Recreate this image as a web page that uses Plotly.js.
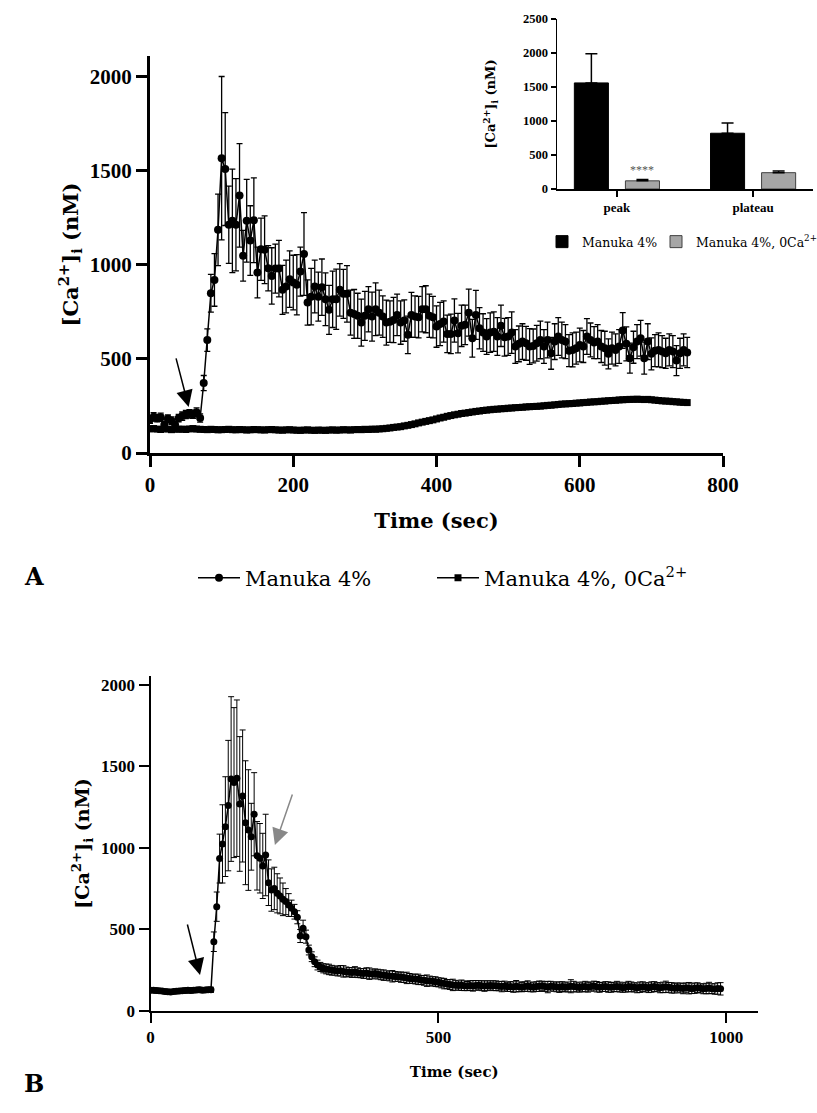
<!DOCTYPE html>
<html>
<head>
<meta charset="utf-8">
<script src="https://cdn.plot.ly/plotly-3.0.1.min.js"></script>
<style>
html,body{margin:0;padding:0;background:#fff;}
#chart{width:817px;height:1113px;}
</style>
</head>
<body>
<div id="chart"></div>
<script>
// ---------- Panel A: time course (sec) ----------
const timeA = [
0,5,10,15,20,25,30,35,40,45,50,55,60,65,70,75,80,85,90,95,
100,105,110,115,120,125,130,135,140,145,150,155,160,165,170,175,180,185,190,195,
200,205,210,215,220,225,230,235,240,245,250,255,260,265,270,275,280,285,290,295,
300,305,310,315,320,325,330,335,340,345,350,355,360,365,370,375,380,385,390,395,
400,405,410,415,420,425,430,435,440,445,450,455,460,465,470,475,480,485,490,495,
500,505,510,515,520,525,530,535,540,545,550,555,560,565,570,575,580,585,590,595,
600,605,610,615,620,625,630,635,640,645,650,655,660,665,670,675,680,685,690,695,
700,705,710,715,720,725,730,735,740,745,750];

// Manuka 4% (mean [Ca2+]i, nM) and SEM
const manukaA = [
178,192,185,190,150,182,172,150,185,196,205,208,206,216,186,372,600,849,920,1186,
1567,1509,1213,1234,1213,1369,1048,1234,1129,1237,959,1083,1080,982,941,980,980,867,885,924,
906,894,964,1058,800,831,885,831,881,817,761,817,817,867,846,846,746,739,729,693,
729,764,725,764,746,725,693,698,707,734,693,704,628,734,725,722,764,764,729,722,
672,686,699,633,633,704,637,676,681,746,610,734,663,640,619,640,645,619,676,615,
619,640,566,580,592,583,566,569,583,601,566,601,530,592,619,601,592,544,548,557,
574,566,619,601,587,592,566,557,527,557,548,566,651,580,504,562,592,610,504,592,
527,544,548,539,530,548,539,491,530,548,534];
const manukaAErr = [
20,22,20,22,18,20,20,18,20,22,22,22,22,24,22,40,60,100,140,190,
434,300,205,275,245,275,135,220,185,225,135,165,180,120,150,130,150,130,140,150,
145,160,130,220,120,150,140,130,150,140,130,150,160,140,130,150,120,130,120,125,
130,120,130,140,120,110,120,110,120,110,115,110,100,120,110,110,120,125,115,110,
110,115,110,100,105,115,105,110,105,125,100,130,110,100,95,105,105,100,110,100,
100,110,90,95,95,90,95,90,95,100,90,95,85,95,100,95,90,85,90,85,
90,85,95,90,85,90,85,90,80,85,85,90,95,90,80,85,90,95,85,95,
85,85,90,85,80,85,85,80,80,85,80];

// Manuka 4%, 0Ca2+ (mean [Ca2+]i, nM)
const manuka0CaA = [
128,130,127,125,130,127,124,128,126,127,125,128,130,127,126,125,124,126,125,123,
124,125,126,124,123,125,124,122,123,125,124,123,122,124,125,123,122,121,123,124,
122,121,120,122,123,121,120,122,121,120,122,123,121,122,124,123,122,124,125,124,
126,125,127,126,128,129,131,133,136,138,140,144,147,151,155,160,164,168,172,176,
181,186,190,195,199,203,206,210,212,215,218,221,223,226,228,230,232,233,235,236,
238,239,241,242,243,245,246,247,248,249,251,253,254,256,258,260,261,262,263,265,
266,268,269,271,272,273,275,276,278,279,280,282,283,284,285,285,286,285,284,285,
283,281,279,277,276,275,273,272,270,269,268];

// ---------- Inset: peak / plateau ----------
const insetCategories = ['peak', 'plateau'];
const insetManuka = [1560, 820];
const insetManukaErr = [430, 150];
const insetManuka0Ca = [120, 240];
const insetManuka0CaErr = [20, 25];

// ---------- Panel B: time course (sec) ----------
const timeB = [
0,5,10,15,20,25,30,35,40,45,50,55,60,65,70,75,80,85,90,95,
100,105,110,115,120,125,130,135,140,145,150,155,160,165,170,175,180,185,190,195,
200,205,210,215,220,225,230,235,240,245,250,255,260,265,270,275,280,285,290,295,
300,305,310,315,320,325,330,335,340,345,350,355,360,365,370,375,380,385,390,395,
400,405,410,415,420,425,430,435,440,445,450,455,460,465,470,475,480,485,490,495,
500,505,510,515,520,525,530,535,540,545,550,555,560,565,570,575,580,585,590,595,
600,605,610,615,620,625,630,635,640,645,650,655,660,665,670,675,680,685,690,695,
700,705,710,715,720,725,730,735,740,745,750,755,760,765,770,775,780,785,790,795,
800,805,810,815,820,825,830,835,840,845,850,855,860,865,870,875,880,885,890,895,
900,905,910,915,920,925,930,935,940,945,950,955,960,965,970,975,980,985,990];
const manukaB = [
128,127,125,124,122,120,118,117,119,121,123,124,125,127,126,128,129,130,128,129,
131,130,425,640,935,1025,1131,1260,1423,1401,1428,1270,1319,1155,1110,1069,1207,952,937,890,
957,787,742,752,722,706,685,671,650,630,609,575,460,507,456,374,333,302,282,270,
262,258,255,250,248,245,247,243,240,238,236,240,235,232,230,233,229,227,230,226,
222,220,218,215,213,212,210,208,205,203,200,198,196,194,190,188,186,184,182,180,
176,172,168,165,162,160,158,156,158,155,153,156,154,157,158,155,153,155,157,155,
155,152,150,153,148,150,147,152,149,146,150,153,148,145,150,152,155,150,147,152,
150,148,146,150,145,148,152,150,147,144,148,150,146,150,153,149,145,148,150,147,
145,148,150,147,143,146,150,148,145,142,146,149,145,143,147,150,146,142,145,148,
145,142,140,144,141,138,142,140,137,140,143,139,136,138,141,137,135,138,136];
const manukaBErr = [
15,14,15,14,13,14,15,14,13,14,15,14,15,14,15,14,15,16,15,14,
15,16,60,90,150,240,306,400,505,460,480,413,405,380,370,205,255,210,213,200,
250,140,130,130,120,110,100,80,70,50,45,40,40,50,40,30,30,30,30,28,
28,30,32,30,28,30,32,35,30,28,30,32,30,28,30,32,35,30,28,30,
30,32,28,30,35,30,28,32,30,35,30,28,30,32,28,30,35,30,28,30,
28,30,32,28,30,35,30,28,32,30,28,30,32,30,28,30,32,30,28,30,
30,28,32,30,28,30,32,35,30,28,30,32,30,28,30,32,28,30,35,30,
28,30,32,30,28,30,40,32,30,28,30,32,30,28,30,32,30,28,30,32,
30,28,32,30,28,30,32,30,28,30,32,30,28,30,32,30,28,30,32,35,
30,32,30,28,30,32,30,35,30,32,30,28,30,32,35,30,32,35,38];

const NUM = 'Liberation Serif';   // narrow bold digits
const TXT = 'DejaVu Serif';       // wide book face for words
const W = 817, H = 1113;
const px = v => v / W;            // pixel -> paper x
const py = v => 1 - v / H;        // pixel -> paper y

const caLabel = '[Ca<sup>2+</sup>]<sub>i</sub> (nM)';

const traces = [
  {
    x: timeA, y: manuka0CaA, type: 'scatter', mode: 'lines+markers',
    name: 'Manuka 4%, 0Ca<sup>2+</sup>', xaxis: 'x', yaxis: 'y', legend: 'legend3',
    line: {color: '#000', width: 1.5},
    marker: {symbol: 'square', size: 7, color: '#000'}
  },
  {
    x: timeA, y: manukaA, type: 'scatter', mode: 'lines+markers',
    name: 'Manuka 4%', xaxis: 'x', yaxis: 'y', legend: 'legend',
    line: {color: '#000', width: 1.5},
    marker: {symbol: 'circle', size: 8, color: '#000'},
    error_y: {type: 'data', array: manukaAErr, visible: true, color: '#000', thickness: 1.3, width: 3}
  },
  {
    x: insetCategories, y: insetManuka, type: 'bar', name: 'Manuka 4%',
    xaxis: 'x2', yaxis: 'y2', legend: 'legend2',
    marker: {color: '#000', line: {color: '#000', width: 1}},
    error_y: {type: 'data', symmetric: false, array: insetManukaErr, arrayminus: [0, 0],
              color: '#000', thickness: 1.5, width: 6}
  },
  {
    x: insetCategories, y: insetManuka0Ca, type: 'bar', name: 'Manuka 4%, 0Ca<sup>2+</sup>',
    xaxis: 'x2', yaxis: 'y2', legend: 'legend4',
    marker: {color: '#a6a6a6', line: {color: '#404040', width: 1}},
    error_y: {type: 'data', symmetric: false, array: insetManuka0CaErr, arrayminus: [0, 0],
              color: '#000', thickness: 1.5, width: 6}
  },
  {
    x: timeB, y: manukaB, type: 'scatter', mode: 'lines+markers',
    name: 'Manuka 4% (B)', xaxis: 'x3', yaxis: 'y3', showlegend: false,
    line: {color: '#000', width: 1.5},
    marker: {symbol: 'circle', size: 7, color: '#000'},
    error_y: {type: 'data', array: manukaBErr, visible: true, color: '#000', thickness: 1, width: 3}
  }
];

const axBase = {
  showgrid: false, zeroline: false, showline: true, linecolor: '#000',
  ticks: 'outside', tickcolor: '#000', mirror: false
};

const legendBase = {
  orientation: 'h', xanchor: 'left', yanchor: 'middle', bgcolor: 'rgba(0,0,0,0)'
};

const layout = {
  width: W, height: H,
  margin: {l: 0, r: 0, t: 0, b: 0, autoexpand: false},
  paper_bgcolor: '#fff', plot_bgcolor: 'rgba(0,0,0,0)',
  font: {family: TXT, color: '#000'},
  barmode: 'group', bargap: 0.25, bargroupgap: 0.333,
  xaxis: Object.assign({}, axBase, {
    domain: [px(150), px(723)], anchor: 'y', range: [0, 800], dtick: 200,
    linewidth: 3, tickwidth: 3, ticklen: 11,
    tickfont: {family: NUM, size: 21, weight: 'bold'},
    title: {text: 'Time (sec)', font: {family: TXT, size: 21, weight: 'bold'}, standoff: 18}
  }),
  yaxis: Object.assign({}, axBase, {
    domain: [py(453), py(56)], anchor: 'x', range: [0, 2110], dtick: 500,
    linewidth: 3, tickwidth: 3, ticklen: 11,
    tickfont: {family: NUM, size: 21, weight: 'bold'},
    title: {text: caLabel, font: {family: TXT, size: 21, weight: 'bold'}, standoff: 6}
  }),
  xaxis2: Object.assign({}, axBase, {
    domain: [px(557), px(813)], anchor: 'y2', type: 'category', range: [-0.44, 1.44],
    linewidth: 1.5, tickwidth: 1.5, ticklen: 6,
    tickfont: {family: NUM, size: 13, weight: 'bold'}
  }),
  yaxis2: Object.assign({}, axBase, {
    domain: [py(189), py(19)], anchor: 'x2', range: [0, 2500], dtick: 500,
    linewidth: 1.5, tickwidth: 1.5, ticklen: 5,
    tickfont: {family: NUM, size: 12.5, weight: 'bold'},
    title: {text: caLabel, font: {family: TXT, size: 13, weight: 'bold'}, standoff: 24}
  }),
  xaxis3: Object.assign({}, axBase, {
    domain: [px(150.5), px(758)], anchor: 'y3', range: [0, 1055], dtick: 500,
    linewidth: 2, tickwidth: 2, ticklen: 10,
    tickfont: {family: NUM, size: 17, weight: 'bold'},
    title: {text: 'Time (sec)', font: {family: TXT, size: 15, weight: 'bold'}, standoff: 20}
  }),
  yaxis3: Object.assign({}, axBase, {
    domain: [py(1011), py(676)], anchor: 'x3', range: [0, 2055], dtick: 500,
    linewidth: 2, tickwidth: 2, ticklen: 10,
    tickfont: {family: NUM, size: 17, weight: 'bold'},
    title: {text: caLabel, font: {family: TXT, size: 19, weight: 'bold'}, standoff: 6}
  }),
  legend: Object.assign({}, legendBase, {
    x: px(193), y: py(578), itemwidth: 42, font: {family: TXT, size: 21}
  }),
  legend3: Object.assign({}, legendBase, {
    x: px(432), y: py(578), itemwidth: 42, font: {family: TXT, size: 21}
  }),
  legend2: Object.assign({}, legendBase, {
    x: px(542), y: py(242), font: {family: TXT, size: 12.5}
  }),
  legend4: Object.assign({}, legendBase, {
    x: px(656), y: py(242), font: {family: TXT, size: 12.5}
  }),
  annotations: [
    {text: '<b>A</b>', xref: 'paper', yref: 'paper', x: px(22), y: py(576),
     showarrow: false, font: {family: TXT, size: 24}},
    {text: '<b>B</b>', xref: 'paper', yref: 'paper', x: px(22), y: py(1100),
     showarrow: false, font: {family: TXT, size: 24}},
    {text: '****', xref: 'x2', yref: 'y2', x: 0.1875, y: 150, yanchor: 'bottom',
     showarrow: false, font: {family: NUM, size: 12, color: '#555'}},
    // stimulus arrows
    {text: '', xref: 'x', yref: 'y', x: 54, y: 245, ax: -13, ay: -50,
     showarrow: true, arrowhead: 2, arrowsize: 2.2, arrowwidth: 1.5, arrowcolor: '#000'},
    {text: '', xref: 'x3', yref: 'y3', x: 86, y: 221, ax: -13, ay: -52,
     showarrow: true, arrowhead: 2, arrowsize: 2.2, arrowwidth: 1.5, arrowcolor: '#000'},
    {text: '', xref: 'x3', yref: 'y3', x: 216, y: 1018, ax: 18, ay: -52,
     showarrow: true, arrowhead: 2, arrowsize: 2.2, arrowwidth: 1.5, arrowcolor: '#888'}
  ],
  showlegend: true
};

Plotly.newPlot('chart', traces, layout, {displayModeBar: false, staticPlot: true});
</script>
</body>
</html>
